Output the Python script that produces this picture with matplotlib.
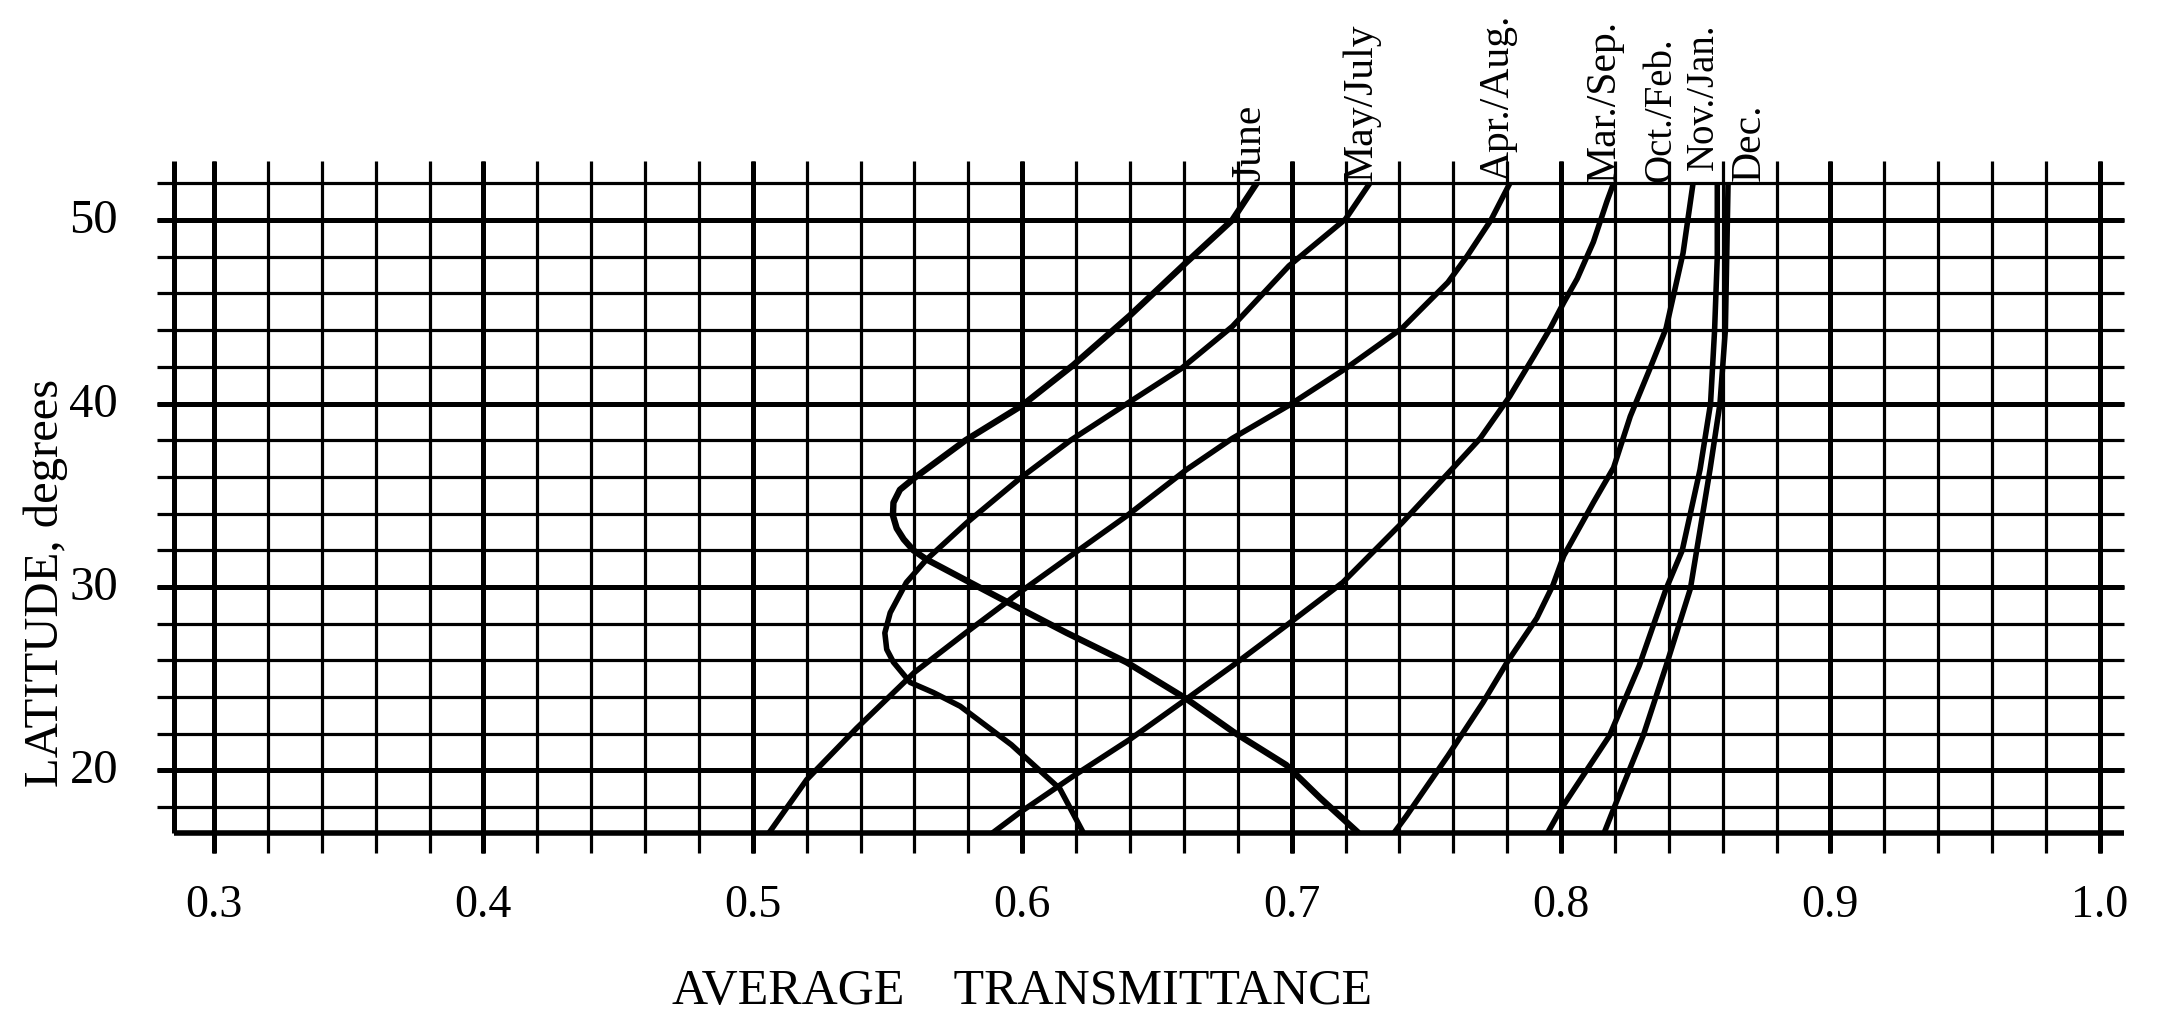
import numpy as np
import matplotlib
matplotlib.use('Agg')
import matplotlib.pyplot as plt

plt.rcParams['font.family'] = ['Liberation Serif', 'DejaVu Serif']

# ---- data ----
lat_ticks = [20, 30, 40, 50]
trans_ticks = [0.3, 0.4, 0.5, 0.6, 0.7, 0.8, 0.9, 1.0]
trans_tick_labels = ['0.3', '0.4', '0.5', '0.6', '0.7', '0.8', '0.9', '1.0']

month_labels = ['June', 'May/July', 'Apr./Aug.', 'Mar./Sep.', 'Oct./Feb.', 'Nov./Jan.', 'Dec.']

# each curve: latitude (deg) and average transmittance, in order along the curve
june_lat = [52, 50, 47.7, 44.8, 42.1, 39.9, 38.0, 35.9, 35.3, 34.6, 33.9, 33.2, 32.6, 32.0,
            31.5, 30.35, 29.2, 27.5, 25.9, 23.9, 22.1, 20.3, 18.5, 16.6]
june_trans = [0.687, 0.678, 0.661, 0.640, 0.619, 0.600, 0.579, 0.5596, 0.5546, 0.5522, 0.552,
              0.5534, 0.556, 0.5596, 0.5645, 0.5793, 0.5942, 0.6165, 0.6387, 0.661, 0.6784,
              0.698, 0.7106, 0.7248]

mayjul_lat = [52, 50.05, 47.5, 44.2, 41.9, 40.1, 38.0, 35.9, 33.5, 31.5, 30.25, 28.6, 27.5,
              26.6, 25.9, 24.8, 24.25, 23.5, 21.4, 19.0, 16.6]
mayjul_trans = [0.729, 0.720, 0.699, 0.678, 0.659, 0.640, 0.618, 0.599, 0.5794, 0.5645, 0.557,
                0.551, 0.549, 0.5497, 0.5522, 0.5584, 0.567, 0.577, 0.596, 0.614, 0.6227]

apraug_lat = [52, 50, 48, 46.6, 44.1, 41.9, 39.9, 38.1, 36.4, 33.9, 31.7, 29.7, 27.5, 25.35,
              22.3, 19.5, 16.6]
apraug_trans = [0.781, 0.774, 0.765, 0.758, 0.741, 0.720, 0.699, 0.678, 0.661, 0.639, 0.618,
                0.599, 0.579, 0.560, 0.5385, 0.520, 0.506]

marsep_lat = [52, 51, 48.8, 46.8, 45.5, 44.1, 42.6, 40.4, 38.1, 36.5, 33.5, 30.25, 27.9, 25.7,
              23.9, 21.7, 19.7, 17.7, 16.6]
marsep_trans = [0.8195, 0.817, 0.812, 0.806, 0.801, 0.796, 0.790, 0.781, 0.770, 0.760, 0.741,
                0.719, 0.698, 0.678, 0.661, 0.640, 0.619, 0.599, 0.589]

octfeb_lat = [52, 48.2, 44.1, 41.9, 39.3, 36.5, 34.6, 31.7, 30.1, 28.3, 25.9, 23.7, 20.8, 17.5, 16.6]
octfeb_trans = [0.849, 0.8453, 0.839, 0.833, 0.8257, 0.8195, 0.812, 0.801, 0.797, 0.791, 0.780,
                0.771, 0.758, 0.7425, 0.738]

novjan_lat = [52, 48, 44, 40, 36.4, 32, 29.9, 25.7, 21.9, 17.9, 16.6]
novjan_trans = [0.858, 0.858, 0.857, 0.8555, 0.8516, 0.845, 0.839, 0.829, 0.818, 0.800, 0.795]

dec_lat = [52, 48, 44, 40, 36.4, 29.9, 25.7, 21.9, 17.9, 16.6]
dec_trans = [0.862, 0.8615, 0.861, 0.859, 0.8553, 0.848, 0.839, 0.8305, 0.8195, 0.816]

curves = [(june_lat, june_trans), (mayjul_lat, mayjul_trans), (apraug_lat, apraug_trans),
          (marsep_lat, marsep_trans), (octfeb_lat, octfeb_trans), (novjan_lat, novjan_trans),
          (dec_lat, dec_trans)]

# ---- layout ----
label_x = [0.6845, 0.7259, 0.7766, 0.816, 0.8372, 0.8530, 0.870]
label_y = [52.2, 52.2, 52.2, 52.1, 52.1, 52.8, 52.2]
label_size = [30, 30, 30, 30, 28, 28, 30]

fig = plt.figure(figsize=(21.67, 10.20), dpi=100)
ax = fig.add_axes([0.06147, 0.13569, 0.9324, 0.7196])
ax.set_xlim(0.27, 1.02)
ax.set_ylim(14, 54)
ax.axis('off')

# graph paper grid
minor_x = np.round(np.arange(0.30, 1.0001, 0.02), 2)
minor_y = np.arange(18, 52.1, 2)
ax.vlines(minor_x, 15.5, 53.2, color='black', lw=2.3)
ax.vlines(trans_ticks, 15.5, 53.2, color='black', lw=3.6)
ax.hlines(minor_y, 0.279, 1.009, color='black', lw=2.3)
ax.hlines(lat_ticks, 0.279, 1.009, color='black', lw=3.6)
ax.vlines(0.285, 16.6, 53.2, color='black', lw=3.6)
ax.hlines(16.6, 0.285, 1.009, color='black', lw=4.0)

# curves
for i, (lat, tr) in enumerate(curves):
    ax.plot(tr, lat, color='black', lw=4.6 if i == 0 else 4.0,
            solid_joinstyle='round', solid_capstyle='butt')

for name, x, y, fs in zip(month_labels, label_x, label_y, label_size):
    ax.text(x, y, name, rotation=90, ha='center', va='bottom', fontsize=fs)

# tick labels
for x, s in zip(trans_ticks, trans_tick_labels):
    ax.text(x, 12.7, s, ha='center', va='center', fontsize=33)
for y in lat_ticks:
    ax.text(0.2644, y, str(y), ha='right', va='center', fontsize=35)

ax.text(0.6, 8.0, 'AVERAGE    TRANSMITTANCE', ha='center', va='center', fontsize=36)
ax.text(0.2375, 30.3, 'LATITUDE, degrees', rotation=90, ha='center', va='center', fontsize=35)

fig.savefig('out.png', dpi=100, facecolor='white')
